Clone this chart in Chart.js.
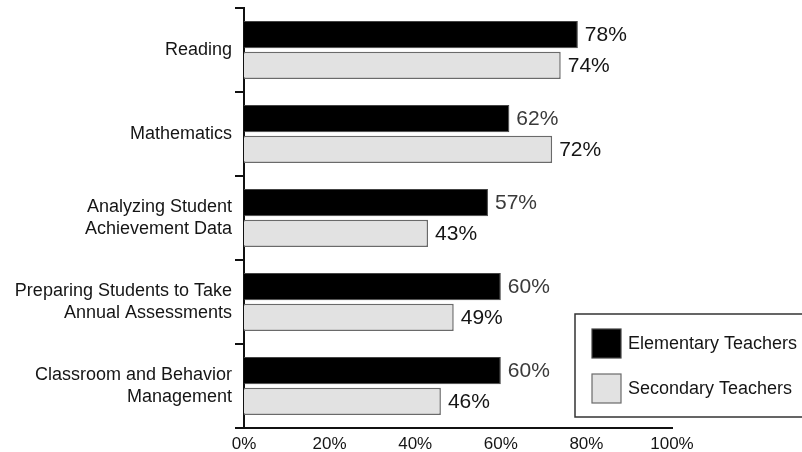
<!DOCTYPE html>
<html lang="en">
<head>
    <meta charset="UTF-8">
    <title>Teacher Survey</title>
    <script src="https://cdn.jsdelivr.net/npm/chart.js"></script>
    <style>
        body { margin: 0; background: #fff; }
        canvas { display: block; }
    </style>
</head>
<body>
    <canvas id="surveyChart" width="802" height="452"></canvas>
    <script>
        const categories = [
            ['Reading'],
            ['Mathematics'],
            ['Analyzing Student', 'Achievement Data'],
            ['Preparing Students to Take', 'Annual Assessments'],
            ['Classroom and Behavior', 'Management']
        ];
        const seriesNames = ['Elementary Teachers', 'Secondary Teachers'];
        const elementary = [78, 62, 57, 60, 60];
        const secondary = [74, 72, 43, 49, 46];

        const FONT = '"Liberation Sans", Arial, sans-serif';

        // value labels at the end of each bar
        const valueLabels = {
            id: 'valueLabels',
            afterDatasetsDraw(chart) {
                const ctx = chart.ctx;
                ctx.save();
                ctx.font = '21px ' + FONT;
                ctx.textAlign = 'left';
                ctx.textBaseline = 'middle';
                chart.data.datasets.forEach((ds, i) => {
                    chart.getDatasetMeta(i).data.forEach((bar, j) => {
                        ctx.fillStyle = i === 0 && j > 0 ? '#3a3a3a' : '#151515';
                        ctx.fillText(ds.data[j] + '%', bar.x + 7, bar.y + 1);
                    });
                });
                ctx.restore();
            }
        };

        // boxed legend in the lower right corner
        const boxLegend = {
            id: 'boxLegend',
            afterDraw(chart) {
                const ctx = chart.ctx;
                ctx.save();
                ctx.fillStyle = '#fff';
                ctx.fillRect(575, 314, 240, 103);
                ctx.strokeStyle = '#333';
                ctx.lineWidth = 1.5;
                ctx.strokeRect(575, 314, 240, 103);
                ctx.font = '18px ' + FONT;
                ctx.textBaseline = 'middle';
                chart.data.datasets.forEach((ds, i) => {
                    const y = 329 + i * 45;
                    ctx.fillStyle = ds.backgroundColor;
                    ctx.fillRect(592, y, 29, 29);
                    ctx.strokeStyle = ds.borderColor;
                    ctx.lineWidth = 1.2;
                    ctx.strokeRect(592, y, 29, 29);
                    ctx.fillStyle = '#151515';
                    ctx.fillText(ds.label, 628, y + 15);
                });
                ctx.restore();
            }
        };

        new Chart(document.getElementById('surveyChart'), {
            type: 'bar',
            data: {
                labels: categories,
                datasets: [
                    {
                        label: seriesNames[0],
                        data: elementary,
                        backgroundColor: '#000000',
                        borderColor: '#444444',
                        borderWidth: 1,
                        categoryPercentage: 0.73,
                        barPercentage: 0.89
                    },
                    {
                        label: seriesNames[1],
                        data: secondary,
                        backgroundColor: '#e2e2e2',
                        borderColor: '#6a6a6a',
                        borderWidth: 1.5,
                        categoryPercentage: 0.73,
                        barPercentage: 0.89
                    }
                ]
            },
            options: {
                indexAxis: 'y',
                responsive: false,
                animation: false,
                layout: { autoPadding: false, padding: { top: 8, right: 130 } },
                plugins: {
                    legend: { display: false },
                    tooltip: { enabled: false }
                },
                scales: {
                    x: {
                        min: 0,
                        max: 100,
                        ticks: {
                            stepSize: 20,
                            callback: v => v + '%',
                            color: '#151515',
                            font: { family: FONT, size: 17 },
                            padding: -2
                        },
                        grid: { display: false },
                        border: { display: true, color: '#111', width: 2 },
                        afterFit: s => { s.height = 24; s.paddingLeft = 0; s.paddingRight = 0; }
                    },
                    y: {
                        ticks: {
                            color: '#151515',
                            font: { family: FONT, size: 18, lineHeight: 1.2 },
                            padding: 3
                        },
                        grid: {
                            drawOnChartArea: false,
                            tickLength: 9,
                            color: '#111',
                            lineWidth: 2,
                            offset: true
                        },
                        border: { display: true, color: '#111', width: 2 },
                        afterFit: s => { s.width = 244; s.paddingTop = 0; s.paddingBottom = 0; }
                    }
                }
            },
            plugins: [valueLabels, boxLegend]
        });
    </script>
</body>
</html>
